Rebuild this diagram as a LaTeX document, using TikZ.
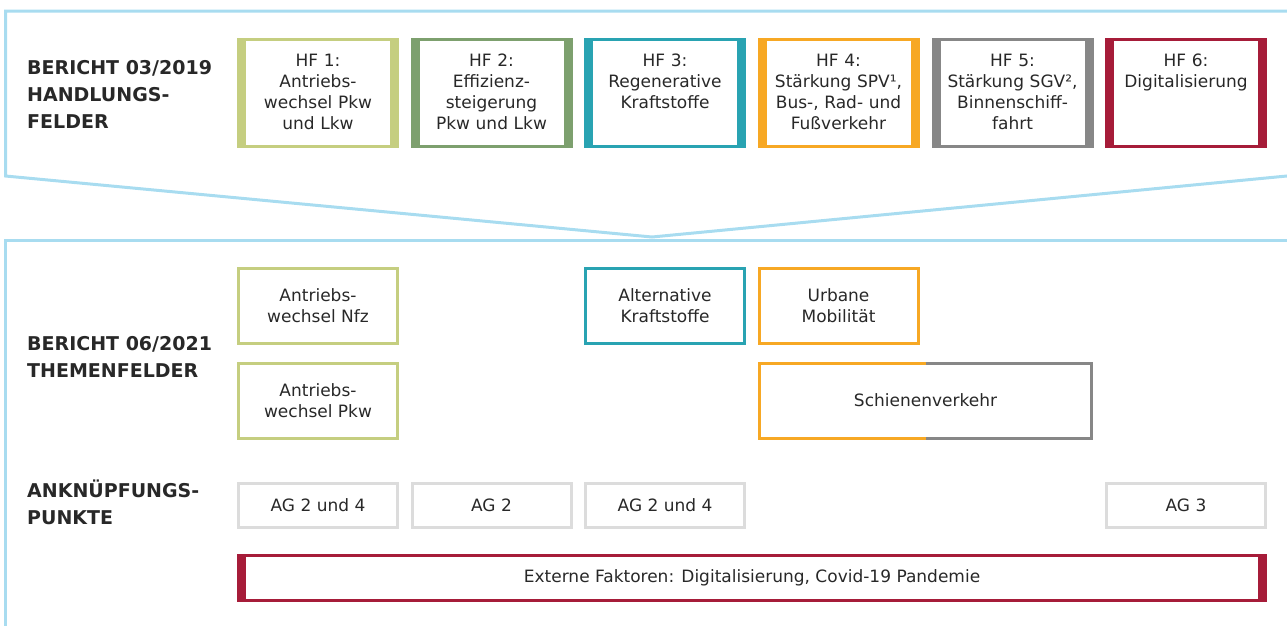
\documentclass[tikz,border=0pt]{standalone}
\usepackage{fontspec}
\setmainfont{DejaVu Sans}
\definecolor{frameblue}{RGB}{168,220,240}
\definecolor{hfone}{RGB}{197,206,128}
\definecolor{hftwo}{RGB}{125,160,110}
\definecolor{hfthree}{RGB}{41,163,178}
\definecolor{hffour}{RGB}{247,168,36}
\definecolor{hffive}{RGB}{135,135,135}
\definecolor{hfsix}{RGB}{166,28,57}
\definecolor{aggray}{RGB}{220,220,220}
\definecolor{textgray}{RGB}{40,40,40}
\begin{document}
\begin{tikzpicture}[x=1pt, y=-1pt,
        every node/.style = {font=\fontsize{17pt}{21pt}\selectfont, text=textgray},
        frame/.style = {draw=frameblue, line width=3pt},
        sidebars/.style = {path picture={
            \fill[#1] (path picture bounding box.north west) rectangle ([xshift=7.5pt]path picture bounding box.south west);
            \fill[#1] (path picture bounding box.north east) rectangle ([xshift=-7.5pt]path picture bounding box.south east);}},
        hfbox/.style = {draw=#1, sidebars=#1, line width=3pt, outer sep=0pt, anchor=north,
            minimum width=159pt, text width=150pt, align=center, inner xsep=4.5pt,
            inner ysep=13.5pt, text height=13pt, text depth=67pt},
        tfbox/.style = {draw=#1, line width=3pt, outer sep=0pt, minimum width=159pt, minimum height=75pt, align=center},
        agbox/.style = {draw=aggray, line width=3pt, outer sep=0pt, minimum width=159pt, minimum height=44pt},
        extbox/.style = {draw=hfsix, sidebars=hfsix, line width=3pt, outer sep=0pt, minimum width=1027pt, minimum height=45pt},
        lbl/.style = {anchor=west, align=left, inner sep=0pt, font=\fontsize{19pt}{27pt}\selectfont\bfseries}
    ]
        \useasboundingbox (0,0) rectangle (1287,625);
        % frames
        \draw[frame] (1290,11) -- (5.5,11) -- (5.5,176) -- (652,237) -- (1290,175.7);
        \draw[frame] (1290,240) -- (5.5,240) -- (5.5,630);
        % row labels
        \node[lbl] (rep19) at (27,94) {BERICHT 03/2019\\HANDLUNGS-\\FELDER};
        \node[lbl] (rep21) at (27,357) {BERICHT 06/2021\\THEMENFELDER};
        \node[lbl] (ank) at (27,502) {ANKNÜPFUNGS-\\PUNKTE};
        % Handlungsfelder
        \node[hfbox=hfone] (hf1) at (318,39.5) {HF 1:\\Antriebs-\\wechsel Pkw\\und Lkw};
        \node[hfbox=hftwo] (hf2) at (491.5,39.5) {HF 2:\\Effizienz-\\steigerung\\Pkw und Lkw};
        \node[hfbox=hfthree] (hf3) at (665,39.5) {HF 3:\\Regenerative\\Kraftstoffe};
        \node[hfbox=hffour] (hf4) at (838.5,39.5) {HF 4:\\Stärkung SPV¹,\\Bus-, Rad- und\\Fußverkehr};
        \node[hfbox=hffive] (hf5) at (1012.5,39.5) {HF 5:\\Stärkung SGV²,\\Binnenschiff-\\fahrt};
        \node[hfbox=hfsix] (hf6) at (1186,39.5) {HF 6:\\Digitalisierung};
        % Themenfelder
        \node[tfbox=hfone] (nfz) at (318,305.5) {Antriebs-\\wechsel Nfz};
        \node[tfbox=hfone] (pkw) at (318,400.5) {Antriebs-\\wechsel Pkw};
        \node[tfbox=hfthree] (alt) at (665,305.5) {Alternative\\Kraftstoffe};
        \node[tfbox=hffour] (urb) at (838.5,305.5) {Urbane\\Mobilität};
        \node[outer sep=0pt, minimum width=332pt, minimum height=75pt] (sv) at (925.5,400.5) {Schienenverkehr};
        \draw[hffour, line width=3pt] (sv.north) -- (sv.north west) -- (sv.south west) -- (sv.south);
        \draw[hffive, line width=3pt] (sv.north) -- (sv.north east) -- (sv.south east) -- (sv.south);
        % Anknuepfungspunkte
        \node[agbox] (ag1) at (318,505) {AG 2 und 4};
        \node[agbox] (ag2) at (491.5,505) {AG 2};
        \node[agbox] (ag3) at (665,505) {AG 2 und 4};
        \node[agbox] (ag4) at (1186,505) {AG 3};
        \node[extbox] (ext) at (752,578) {Externe Faktoren: Digitalisierung, Covid-19 Pandemie};
    \end{tikzpicture}
\end{document}
